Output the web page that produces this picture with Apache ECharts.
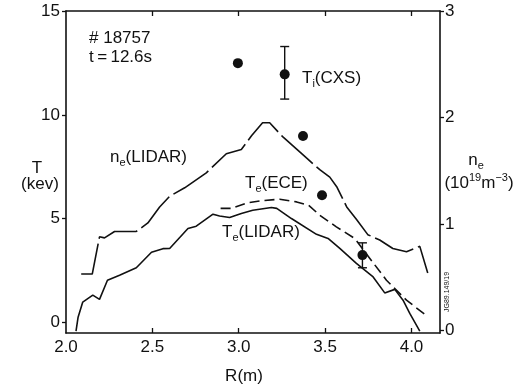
<!DOCTYPE html>
<html>
<head>
<meta charset="utf-8">
<script src="https://cdn.jsdelivr.net/npm/echarts@6/dist/echarts.min.js"></script>
<style>
html,body{margin:0;padding:0;background:#fff;}
#chart{width:524px;height:388px;}
</style>
</head>
<body>
<div id="chart"></div>
<script>
// ---- data ----
const X_TICKS = [2.0, 2.5, 3.0, 3.5, 4.0];
const T_TICKS = [0, 5, 10, 15];
const NE_TICKS = [0, 1, 2, 3];

// n_e(LIDAR)  [10^19 m^-3]
const R_NE = [2.088,2.152,2.194,2.223,2.281,2.329,2.407,2.474,2.542,2.600,2.687,2.812,2.928,3.015,3.075,3.138,3.179,3.254,3.392,3.469,3.527,3.567,3.625,3.683,3.747,3.816,3.892,3.971,4.048,4.094];
const NE_LIDAR = [0.53,0.53,0.88,0.87,0.93,0.93,0.93,1.01,1.16,1.26,1.34,1.48,1.66,1.70,1.83,1.95,1.95,1.82,1.62,1.51,1.44,1.35,1.16,1.04,0.90,0.85,0.77,0.74,0.79,0.54];

// T_e(LIDAR) [keV]
const R_TE_LIDAR = [2.058,2.070,2.097,2.155,2.194,2.240,2.310,2.407,2.495,2.561,2.600,2.706,2.754,2.851,2.889,2.947,3.015,3.081,3.189,3.220,3.305,3.450,3.517,3.585,3.681,3.778,3.845,3.903,3.951,3.990,4.048];
const TE_LIDAR = [-0.41,0.26,0.99,1.32,1.12,2.04,2.28,2.64,3.39,3.56,3.57,4.53,4.64,5.22,5.13,5.06,5.25,5.41,5.54,5.50,5.01,4.25,4.05,3.57,2.85,2.20,1.43,1.60,1.08,0.44,-0.41];

// T_e(ECE) [keV]
const R_TE_ECE = [2.895,2.959,3.046,3.133,3.237,3.335,3.405,3.469,3.565,3.672,3.759,3.855,3.971,4.083];
const TE_ECE = [5.50,5.50,5.76,5.87,5.94,5.81,5.65,5.17,4.61,4.05,3.09,2.04,1.08,0.36];

// T_i(CXS) [keV]
const R_TI = [2.995,3.266,3.372,3.482,3.716];
const TI_CXS = [12.49,11.95,8.98,6.13,3.25];

// error bars on T_i
const R_ERR = [3.266,3.716];
const ERR_LO = [10.76,2.64];
const ERR_HI = [13.29,3.84];

// ---- chart ----
const FONT = '"Liberation Sans", Arial, Helvetica, sans-serif';
const INK = '#111';
const zip = (a, b) => a.map((v, i) => [v, b[i]]);

const chart = echarts.init(document.getElementById('chart'), null, {renderer: 'canvas'});

const rich = {
  m: {fontSize: 17, lineHeight: 22, fontFamily: FONT, color: INK},
  s: {fontSize: 11, lineHeight: 11, fontFamily: FONT, color: INK, verticalAlign: 'bottom'},
  p: {fontSize: 11, lineHeight: 11, fontFamily: FONT, color: INK, verticalAlign: 'top'}
};
function txt(x, y, text, align) {
  return {
    type: 'text', x: x, y: y, silent: true,
    style: {text: text, rich: rich, fill: INK, font: '17px ' + FONT,
            align: align || 'left', verticalAlign: 'middle'}
  };
}

const option = {
  animation: false,
  backgroundColor: '#fff',
  grid: {left: 66, right: 84, top: 11, bottom: 55},
  xAxis: [{
    type: 'value', min: 2.0, max: 4.165, position: 'bottom',
    axisLine: {show: true, onZero: false, lineStyle: {color: INK, width: 1.6}},
    axisTick: {show: true, inside: true, length: 5, customValues: X_TICKS.slice(1), lineStyle: {color: INK, width: 1.3}},
    axisLabel: {customValues: X_TICKS, formatter: v => v.toFixed(1), color: INK, fontSize: 17, fontFamily: FONT, margin: 6},
    splitLine: {show: false}
  }, {
    type: 'value', min: 2.0, max: 4.165, position: 'top',
    axisLine: {show: true, onZero: false, lineStyle: {color: INK, width: 1.6}},
    axisTick: {show: true, inside: true, length: 5, customValues: X_TICKS.slice(1), lineStyle: {color: INK, width: 1.3}},
    axisLabel: {show: false},
    splitLine: {show: false}
  }],
  yAxis: [{
    type: 'value', min: -0.5, max: 15, position: 'left',
    axisLine: {show: true, onZero: false, lineStyle: {color: INK, width: 1.6}},
    axisTick: {show: true, inside: false, length: 4, customValues: T_TICKS, lineStyle: {color: INK, width: 1.3}},
    axisLabel: {customValues: T_TICKS, color: INK, fontSize: 17, fontFamily: FONT, margin: 6},
    splitLine: {show: false}
  }, {
    type: 'value', min: -0.0235, max: 3, position: 'right',
    axisLine: {show: true, onZero: false, lineStyle: {color: INK, width: 1.6}},
    axisTick: {show: true, inside: false, length: 4, customValues: NE_TICKS, lineStyle: {color: INK, width: 1.3}},
    axisLabel: {customValues: NE_TICKS, color: INK, fontSize: 17, fontFamily: FONT, margin: 5},
    splitLine: {show: false}
  }],
  series: [{
    name: 'ne LIDAR', type: 'line', yAxisIndex: 1, data: zip(R_NE, NE_LIDAR),
    showSymbol: false, symbol: 'none',
    lineStyle: {color: INK, width: 1.6, type: [42, 5]}
  }, {
    name: 'Te LIDAR', type: 'line', data: zip(R_TE_LIDAR, TE_LIDAR),
    showSymbol: false, symbol: 'none',
    lineStyle: {color: INK, width: 1.6, type: 'solid'}
  }, {
    name: 'Te ECE', type: 'line', data: zip(R_TE_ECE, TE_ECE),
    showSymbol: false, symbol: 'none',
    lineStyle: {color: INK, width: 1.6, type: [10, 5]}
  }, {
    name: 'Ti err', type: 'custom',
    data: R_ERR.map((r, i) => [r, ERR_LO[i], ERR_HI[i]]),
    renderItem: function (params, api) {
      const lo = api.coord([api.value(0), api.value(1)]);
      const hi = api.coord([api.value(0), api.value(2)]);
      const w = 4.5;
      const st = {stroke: INK, lineWidth: 1.4};
      return {type: 'group', children: [
        {type: 'line', shape: {x1: lo[0], y1: lo[1], x2: hi[0], y2: hi[1]}, style: st},
        {type: 'line', shape: {x1: lo[0]-w, y1: lo[1], x2: lo[0]+w, y2: lo[1]}, style: st},
        {type: 'line', shape: {x1: hi[0]-w, y1: hi[1], x2: hi[0]+w, y2: hi[1]}, style: st}
      ]};
    },
    z: 3
  }, {
    name: 'Ti CXS', type: 'scatter', data: zip(R_TI, TI_CXS),
    symbol: 'circle', symbolSize: 10,
    itemStyle: {color: INK, opacity: 1}, z: 4
  }],
  graphic: [
    txt(89, 38, '{m|# 18757}'),
    txt(89, 57, '{m|t\u2009=\u200912.6s}'),
    txt(302, 78, '{m|T}{s|i}{m|(CXS)}'),
    txt(110, 157, '{m|n}{s|e}{m|(LIDAR)}'),
    txt(245, 183, '{m|T}{s|e}{m|(ECE)}'),
    txt(222, 232, '{m|T}{s|e}{m|(LIDAR)}'),
    txt(37, 168, '{m|T}', 'center'),
    txt(40, 184, '{m|(kev)}', 'center'),
    txt(476, 160, '{m|n}{s|e}', 'center'),
    txt(479, 183, '{m|(10}{p|19}{m|m}{p|\u22123}{m|)}', 'center'),
    txt(244, 376, '{m|R(m)}', 'center'),
    {
      type: 'text', x: 447, y: 292, rotation: Math.PI / 2, silent: true,
      style: {text: 'JG89.149/19', fill: INK, font: '7px ' + FONT, align: 'center', verticalAlign: 'middle'}
    }
  ]
};
chart.setOption(option);
</script>
</body>
</html>
